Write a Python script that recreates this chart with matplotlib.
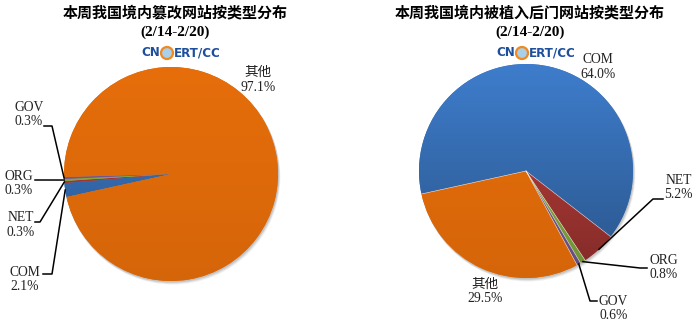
import matplotlib.pyplot as plt
from matplotlib.patches import Circle
from matplotlib import font_manager, colors as mcolors
import numpy as np

plt.rcParams['font.family'] = ['Liberation Serif', 'Noto Sans CJK SC']

# data
categories = ['COM', 'NET', 'ORG', 'GOV', '其他']
tampered = [2.1, 0.3, 0.3, 0.3, 97.1]
backdoor = [64.0, 5.2, 0.8, 0.6, 29.5]
colors = ['#3a75bf', '#b83d39', '#8cb441', '#7b5f9e', '#e36c0a']
shade = [0.28, 0.3, 0.2, 0.2, 0.06]

W, H = 697, 327
R = 107

# narrow font for the logo, if there is one
names = {f.name for f in font_manager.fontManager.ttflist}
if 'Liberation Sans Narrow' in names:
    logo_font = dict(family=['Liberation Sans Narrow'], fontsize=11)
elif any(f.name == 'DejaVu Sans' and f.stretch == 'condensed' for f in font_manager.fontManager.ttflist):
    logo_font = dict(family=['DejaVu Sans'], fontstretch='condensed', fontsize=9.5)
else:
    logo_font = dict(family=['Liberation Sans'], fontsize=8.5)


def py(y):
    # pixel row -> data y (axis covers the whole figure)
    return H - y


fig = plt.figure(figsize=(W / 100, H / 100), dpi=100)
ax = fig.add_axes([0, 0, 1, 1])


def draw_pie(values, cx, cy, title, labels_pos, leaders, seams):
    center = (cx, py(cy))
    # soft shadow
    for k, a in [(3.0, 0.15), (2.0, 0.25), (1.0, 0.35)]:
        ax.add_patch(Circle((cx + k * 0.6, py(cy) - k), R + 0.5, color='#9a9a9a',
                            alpha=a, lw=0, zorder=0.5))
    wedges, _ = ax.pie(values, colors=colors, startangle=192.4, counterclock=False,
                       center=center, radius=R, frame=True,
                       wedgeprops=dict(linewidth=0))

    # vertical shading inside each slice
    t = np.linspace(0, 1, 200)[:, None]
    for i, w in enumerate(wedges):
        base = np.array(mcolors.to_rgb(colors[i]))
        top = np.clip(base * (1 + shade[i] * 0.25), 0, 1)
        bot = base * (1 - shade[i])
        grad = (top[None, :] * (1 - t) + bot[None, :] * t)[:, None, :]
        im = ax.imshow(grad, extent=[cx - R, cx + R, py(cy) - R, py(cy) + R],
                       origin='upper', aspect='auto', zorder=1.5, interpolation='bilinear')
        im.set_clip_path(w)

    if seams:
        for w in wedges:
            a = np.deg2rad(w.theta1)
            ax.plot([cx, cx + R * np.cos(a)], [py(cy), py(cy) + R * np.sin(a)],
                    color='white', lw=0.4, alpha=0.8, zorder=1.6)

    ax.text(cx + 4, py(12), title, ha='center', va='center', fontsize=10.8,
            fontweight='bold', family=['Noto Sans CJK SC'])
    ax.text(cx + 4, py(32), '(2/14-2/20)', ha='center', va='center', fontsize=11,
            fontweight='bold', family=['Liberation Serif'])

    # CNCERT/CC logo
    ax.text(cx - 10.5, py(53), 'CN', ha='right', va='center', fontweight='bold',
            color='#1d4f9c', **logo_font)
    ax.add_patch(Circle((cx - 4, py(53)), 6, facecolor='#a9cfe9', edgecolor='#f0891e',
                        lw=1.6, zorder=3))
    ax.text(cx + 2.5, py(53), 'ERT/CC', ha='left', va='center', fontweight='bold',
            color='#1d4f9c', **logo_font)

    for i, name in enumerate(categories):
        tx, ty = labels_pos[i]
        ax.text(tx, py(ty), f'{name}\n{values[i]:.1f}%', ha='center', va='center',
                fontsize=9.8, linespacing=1.15, color='#222222')
        if leaders[i] is not None:
            w = wedges[i]
            mid = np.deg2rad((w.theta1 + w.theta2) / 2)
            xs = [cx + R * np.cos(mid)] + [p[0] for p in leaders[i]]
            ys = [py(cy) + R * np.sin(mid)] + [py(p[1]) for p in leaders[i]]
            ax.plot(xs, ys, color='black', lw=1.1, zorder=3)


draw_pie(tampered, 171, 174, '本周我国境内篡改网站按类型分布',
         [(25, 279.5), (21, 225), (18.5, 183.5), (29, 114.5), (258, 80)],
         [[(52, 274), (43, 274)], [(40, 222), (35, 222)], [(35, 180)],
          [(52, 126), (44, 126)], None], seams=False)

draw_pie(backdoor, 526, 171, '本周我国境内被植入后门网站按类型分布',
         [(598, 67), (678.5, 187.5), (664, 267.5), (613.5, 308.5), (485, 291.5)],
         [None, [(653, 199), (663, 199)], [(640, 268), (647, 268)],
          [(590, 301), (597, 301)], None], seams=True)

ax.set_xlim(0, W)
ax.set_ylim(0, H)
ax.set_aspect('auto')
ax.axis('off')

plt.savefig('out.png', dpi=100)
